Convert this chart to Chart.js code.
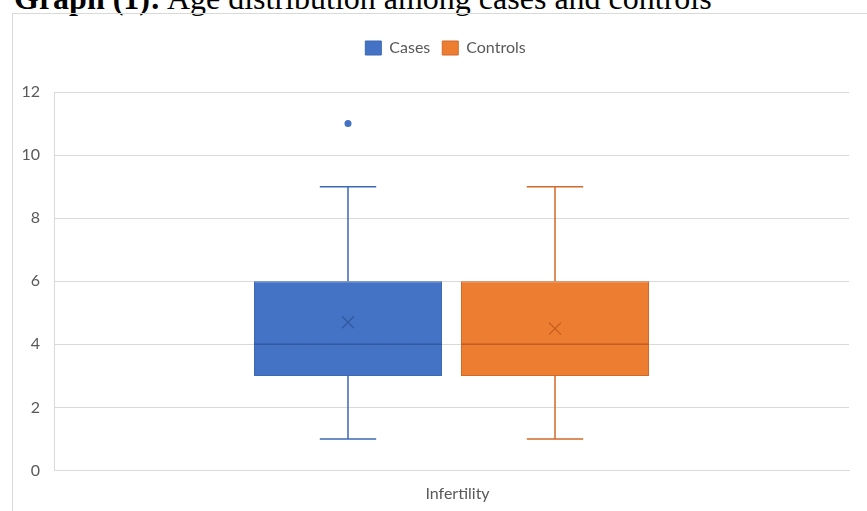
<!DOCTYPE html>
<html>
<head>
<meta charset="utf-8">
<title>Graph (1)</title>
<script src="https://cdn.jsdelivr.net/npm/chart.js@4"></script>
<style>
  html, body { margin: 0; padding: 0; width: 867px; height: 511px; overflow: hidden; background: #fff; }
  #titulo { position: absolute; left: 14px; top: -18px; font-family: "Liberation Serif", serif; font-size: 32px; line-height: 32px; color: #000; white-space: nowrap; }
  #marco { position: absolute; left: 12px; top: 13px; width: 900px; height: 600px; border: 1px solid #d9d9d9; }
  #wrap { position: absolute; left: 0; top: 0; width: 867px; height: 511px; }
</style>
</head>
<body>
<div id="titulo"><b>Graph (1):</b> Age distribution among cases and controls</div>
<div id="marco"></div>
<div id="wrap"><canvas id="myChart"></canvas></div>
<script>
var categories = ["Infertility"]
var seriesNames = ["Cases", "Controls"]
var mins = [1, 1]
var q1s = [3, 3]
var medians = [4, 4]
var q3s = [6, 6]
var maxs = [9, 9]
var means = [4.7, 4.5]
var outliers = [[11], []]

var fills = ["#4472c4", "#ed7d31"]
var lines = ["#3d68b6", "#d2692a"]   // borde y bigotes
var darks = ["#32599f", "#c15d1f"]   // mediana y media

// bigotes, mediana, media y atipicos encima de las cajas
var boxExtras = {
  id: 'boxExtras',
  afterDatasetsDraw: function(chart) {
    var ctx = chart.ctx
    var y = chart.scales.y
    chart.data.datasets.forEach(function(ds, i) {
      chart.getDatasetMeta(i).data.forEach(function(bar) {
        var x = bar.x, w = bar.width, cap = w * 0.15
        var pMin = y.getPixelForValue(mins[i]), pQ1 = y.getPixelForValue(q1s[i])
        var pQ3 = y.getPixelForValue(q3s[i]), pMax = y.getPixelForValue(maxs[i])
        var pMed = y.getPixelForValue(medians[i]), pMean = y.getPixelForValue(means[i])
        ctx.save()
        ctx.lineWidth = 1.5
        ctx.strokeStyle = lines[i]
        ctx.beginPath()
        ctx.moveTo(x, pQ3); ctx.lineTo(x, pMax)
        ctx.moveTo(x - cap, pMax); ctx.lineTo(x + cap, pMax)
        ctx.moveTo(x, pQ1); ctx.lineTo(x, pMin)
        ctx.moveTo(x - cap, pMin); ctx.lineTo(x + cap, pMin)
        ctx.stroke()
        // mediana
        ctx.strokeStyle = darks[i]
        ctx.beginPath()
        ctx.moveTo(bar.x - w / 2, pMed); ctx.lineTo(bar.x + w / 2, pMed)
        ctx.stroke()
        // media (X)
        ctx.lineWidth = 1.2
        ctx.beginPath()
        ctx.moveTo(x - 6, pMean - 6); ctx.lineTo(x + 6, pMean + 6)
        ctx.moveTo(x + 6, pMean - 6); ctx.lineTo(x - 6, pMean + 6)
        ctx.stroke()
        // atipicos
        ctx.fillStyle = fills[i]
        outliers[i].forEach(function(v) {
          ctx.beginPath()
          ctx.arc(x, y.getPixelForValue(v), 3.5, 0, Math.PI * 2)
          ctx.fill()
        })
        ctx.restore()
      })
    })
  }
}

// mas espacio bajo la leyenda, y la leyenda un poco a la derecha
var legendGap = {
  id: 'legendGap',
  beforeInit: function(chart) {
    var fit = chart.legend.fit
    chart.legend.fit = function() {
      fit.bind(chart.legend)()
      this.height += 26
    }
  },
  afterLayout: function(chart) {
    chart.legend.left += 21
    chart.legend.right += 21
  }
}

var datasets = seriesNames.map(function(name, i) {
  return {
    label: name,
    data: categories.map(function() { return [q1s[i], q3s[i]] }),
    backgroundColor: fills[i],
    borderColor: lines[i],
    borderWidth: 1,
    borderSkipped: false,
    categoryPercentage: 0.5208,
    barPercentage: 0.9082
  }
})

var fuente = { family: "Lato, 'Open Sans', sans-serif", size: 16 }

new Chart(document.getElementById("myChart"), {
  type: 'bar',
  data: { labels: categories, datasets: datasets },
  options: {
    responsive: true,
    maintainAspectRatio: false,
    animation: false,
    layout: { padding: { left: 0, right: 18, top: 28, bottom: 0 } },
    plugins: {
      tooltip: { enabled: false },
      legend: {
        position: 'top',
        labels: { boxWidth: 16, boxHeight: 14, padding: 12, color: '#595959', font: fuente }
      }
    },
    scales: {
      x: {
        grid: { display: false },
        border: { display: true, color: '#d9d9d9' },
        ticks: { color: '#595959', font: fuente, padding: 6, labelOffset: 6 },
        afterFit: function(scale) { scale.height = 40.5 }
      },
      y: {
        min: 0,
        max: 12,
        ticks: { stepSize: 2, color: '#595959', font: fuente, padding: 14 },
        grid: { color: '#d9d9d9', drawTicks: false },
        border: { display: true, color: '#d9d9d9' },
        afterFit: function(scale) { scale.width = 54 }
      }
    }
  },
  plugins: [legendGap, boxExtras]
})
</script>
</body>
</html>
